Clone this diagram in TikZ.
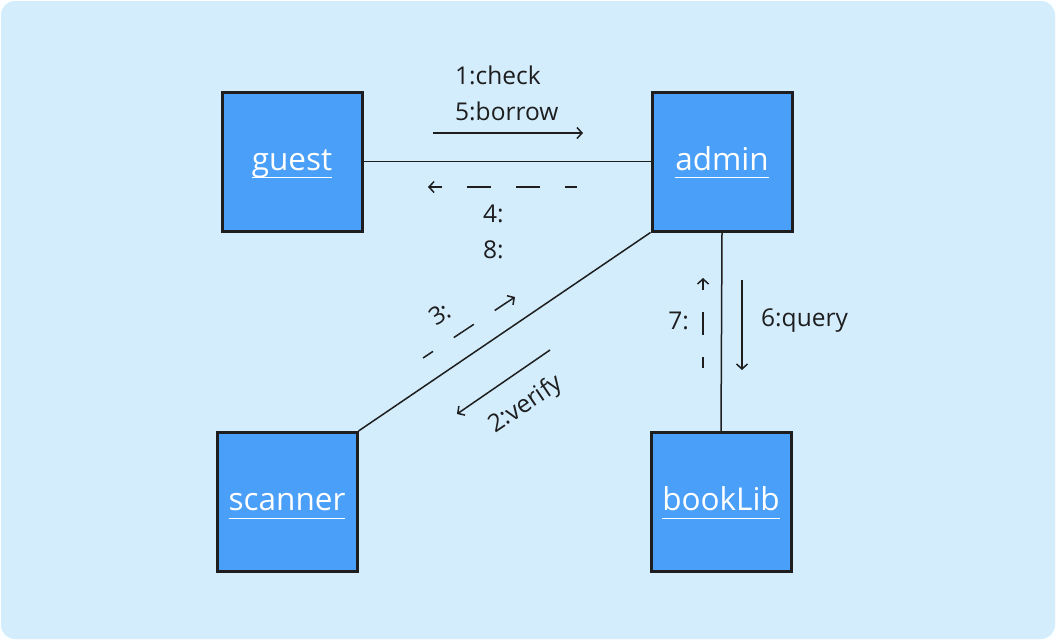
\documentclass[tikz,border=0pt]{standalone}
\usepackage{fontspec}
\setmainfont{Open Sans}
\usepackage{amsmath}
\usepackage{tikz}
\usetikzlibrary{arrows.meta,calc}
\definecolor{cBack}{RGB}{211,237,253}
\definecolor{cObj}{RGB}{74,159,248}
\definecolor{cInk}{RGB}{30,30,30}
\newcommand{\objul}[1]{$\underline{\smash{\text{#1}}\rule[-4pt]{0pt}{30pt}}$}
\tikzstyle{tsObject} = [
    rectangle,
    draw=cInk,
    fill=cObj,
    line width=3pt,
    minimum width=140pt,
    minimum height=139pt,
    text=white,
    font=\fontsize{31.5}{36}\selectfont
]
\tikzstyle{tsLabel} = [
    text=cInk,
    inner sep=0pt,
    align=left,
    font=\fontsize{24.5}{36}\selectfont
]
\tikzstyle{tsLink} = [
    draw=cInk,
    line width=1.5pt
]
\tikzstyle{tsMsg} = [
    tsLink,
    -{Straight Barb[length=5pt,width=11pt]}
]
\tikzstyle{tsReply} = [
    tsMsg,
    dash pattern=on 24pt off 25pt,
    dash phase=12pt
]

\begin{document}
\begin{tikzpicture}[x=1pt,y=1pt]

        \useasboundingbox (0,0) rectangle (1056,-640);
        \fill[white!96!cBack] (0,0) rectangle (1056,-640);
        \fill[cBack, rounded corners=14pt] (1,-1) rectangle (1055,-639);

        % objects
        \node[tsObject] (guest)   at (292,-161.5) {\objul{guest}};
        \node[tsObject] (admin)   at (722,-161.5) {\objul{admin}};
        \node[tsObject] (scanner) at (287,-502)   {\objul{scanner}};
        \node[tsObject] (booklib) at (721,-502)   {\objul{bookLib}};

        % links
        \draw[tsLink] (guest.east) -- (admin.west);
        \draw[tsLink] (scanner.north east) -- (admin.south west);
        \draw[tsLink] (admin.south) -- (booklib.north);

        % guest <-> admin
        \coordinate (m1s) at (433,-133);
        \coordinate (m1e) at (583,-133);
        \draw[tsMsg] (m1s) -- (m1e);
        \node[tsLabel, anchor=west] (m1) at (455,-93) {1:check\\5:borrow};

        \coordinate (r4s) at (577,-187);
        \coordinate (r4e) at (428,-187);
        \draw[tsReply] (r4s) -- (r4e);
        \node[tsLabel, anchor=west] (r4) at (483,-232) {4:\\8:};

        % admin <-> scanner
        \coordinate (m2s) at (550,-350);
        \coordinate (m2e) at (457,-414);
        \draw[tsMsg] (m2s) -- (m2e);
        \node[tsLabel, rotate=34] (m2) at (526,-405) {2:verify};

        \coordinate (r3s) at (423,-358);
        \coordinate (r3e) at (515,-297);
        \draw[tsReply] (r3s) -- (r3e);
        \node[tsLabel, rotate=34] (r3) at (440,-314) {3:};

        % admin <-> bookLib
        \coordinate (m6s) at (742,-280);
        \coordinate (m6e) at (742,-370);
        \draw[tsMsg] (m6s) -- (m6e);
        \node[tsLabel, anchor=west] (m6) at (761,-321) {6:query};

        \coordinate (r7s) at (703,-368);
        \coordinate (r7e) at (703,-278);
        \draw[tsReply, dash pattern=on 23pt off 22pt] (r7s) -- (r7e);
        \node[tsLabel, anchor=east] (r7) at (689,-321) {7:};

\end{tikzpicture}
\end{document}
